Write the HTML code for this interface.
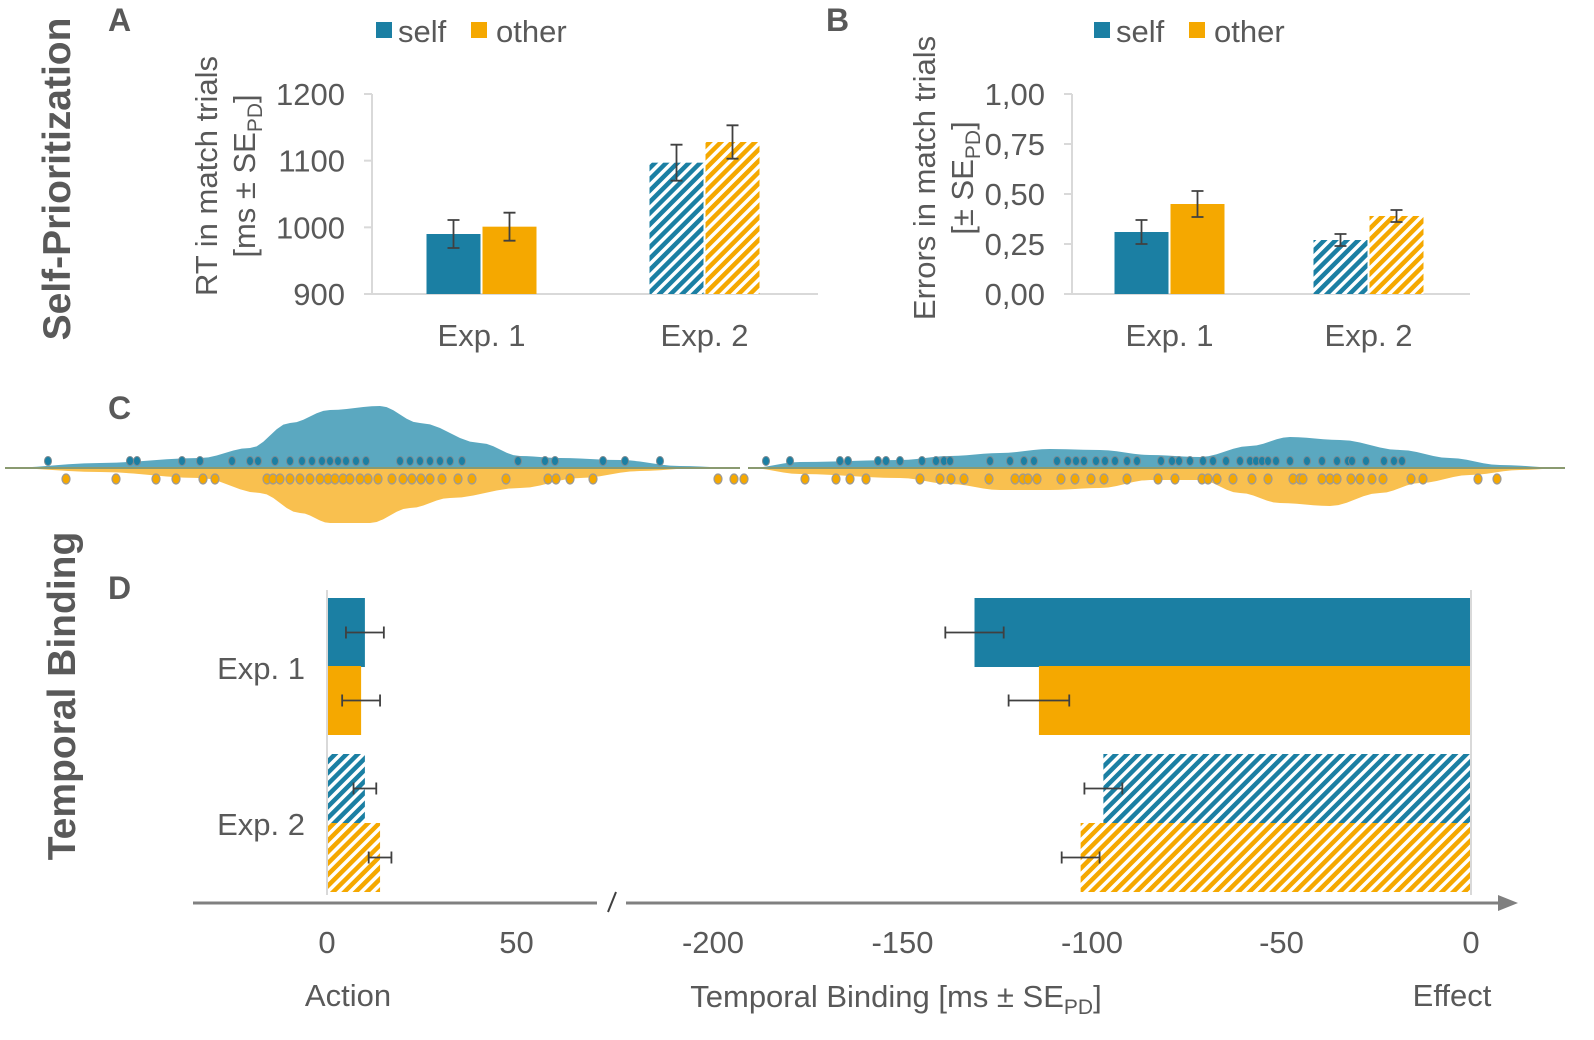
<!DOCTYPE html>
<html><head><meta charset="utf-8"><style>
body{margin:0;background:#fff;}
svg{font-family:"Liberation Sans",sans-serif;}
</style></head><body>
<svg id="s" width="1594" height="1035" viewBox="0 0 1594 1035" xmlns="http://www.w3.org/2000/svg">
<defs>
<pattern id="hb" width="8" height="8" patternUnits="userSpaceOnUse" patternTransform="rotate(45)"><rect width="8" height="8" fill="#fff"/><rect width="4.5" height="8" fill="#1b7fa3"/></pattern>
<pattern id="ho" width="8" height="8" patternUnits="userSpaceOnUse" patternTransform="rotate(45)"><rect width="8" height="8" fill="#fff"/><rect width="4.5" height="8" fill="#f5a800"/></pattern>
</defs>
<g id="g"></g>
</svg>
<script>
// Panel A data
const catsAB=["Exp. 1","Exp. 2"];
const rtSelf=[990,1097], rtOther=[1001,1128], rtSelfErr=[21,27], rtOtherErr=[21,25];
const rtTicks=[900,1000,1100,1200];
// Panel B data
const errSelf=[0.31,0.27], errOther=[0.45,0.39], errSelfErr=[0.06,0.03], errOtherErr=[0.065,0.03];
const errTicks=["0,00","0,25","0,50","0,75","1,00"];
const errTickVals=[0,0.25,0.5,0.75,1];
// Panel D data
const tbLeftSelf=[10,10], tbLeftOther=[9,14], tbLeftSelfErr=[5,3], tbLeftOtherErr=[5,3];
const tbRightSelf=[-131,-97], tbRightOther=[-114,-103], tbRightSelfErr=[7.7,5], tbRightOtherErr=[8,5];
const leftTicks=[0,50], rightTicks=[-200,-150,-100,-50,0];
// Panel C violin data
const vLX=[5,100,200,250,290,330,380,420,480,520,560,620,680,740];
const vLBlue=[0,5,10,20,45,58,62,45,25,12,10,8,2,0];
const vLOX=[5,100,200,260,300,330,370,410,450,520,580,640,700,740];
const vLOrange=[0,4,10,25,45,55,55,40,30,20,10,3,0,0];
const vRX=[750,800,900,950,1000,1050,1100,1150,1200,1250,1290,1340,1400,1450,1500,1565];
const vRBlue=[0,6,8,12,15,19,18,13,11,22,31,28,18,10,3,0];
const vROX=[750,800,900,950,1000,1050,1100,1150,1200,1240,1280,1330,1380,1420,1470,1520,1565];
const vROrange=[0,6,10,16,22,22,20,12,12,25,35,38,25,15,7,2,0];
const dotsBlue=[48,130,137,182,200,232,250,258,275,290,302,312,322,330,338,346,356,366,400,410,420,430,440,450,462,518,545,555,603,625,660,766,790,840,848,878,886,900,922,936,944,950,990,1010,1024,1034,1057,1068,1076,1084,1096,1105,1115,1127,1137,1161,1172,1179,1190,1203,1213,1226,1240,1250,1256,1262,1268,1276,1290,1307,1322,1337,1348,1352,1366,1384,1394,1402];
const dotsOrange=[66,116,156,176,203,215,267,273,280,290,300,310,320,328,335,343,350,360,368,378,392,403,412,421,430,442,458,472,506,548,556,570,593,718,734,744,805,836,850,866,920,940,951,964,989,1015,1023,1028,1037,1061,1075,1091,1104,1127,1158,1175,1202,1208,1217,1233,1252,1268,1293,1300,1303,1322,1330,1337,1351,1360,1372,1383,1411,1423,1478,1497];

const g=document.getElementById('g');
function el(t,a,txt){const e=document.createElementNS('http://www.w3.org/2000/svg',t);for(const k in a)e.setAttribute(k,a[k]);if(txt!==undefined)e.textContent=txt;g.appendChild(e);return e;}
const GRAY="#595959", BLUE="#1b7fa3", ORANGE="#f5a800", EB="#404040";
const FS=31;

for(const [t,x,y] of [["A",108,31],["B",826,31],["C",108,419],["D",108,599]]){
 const e=el('text',{x:x,y:y,'font-size':32,'font-weight':'bold',fill:GRAY},t);
 
 
}
let e=el('text',{x:0,y:0,'font-size':39,'font-weight':'bold',fill:GRAY,'text-anchor':'middle',transform:'translate(70,179) rotate(-90)'},"Self-Prioritization");


e=el('text',{x:0,y:0,'font-size':39,'font-weight':'bold',fill:GRAY,'text-anchor':'middle',transform:'translate(75,696) rotate(-90)'},"Temporal Binding");



function legend(x0,tag){
 let r=el('rect',{x:x0,y:22,width:16,height:16,fill:BLUE});
 
 
 let t=el('text',{x:x0+22,y:42,'font-size':FS,fill:GRAY},"self");
 
 
 r=el('rect',{x:x0+95,y:22,width:16,height:16,fill:ORANGE});
 
 
 t=el('text',{x:x0+120,y:42,'font-size':FS,fill:GRAY},"other");
 
 
}
legend(376,'a'); legend(1094,'b');

function errbar(x,y1,y2,cap,name){
 const p=el('path',{d:`M${x-cap},${y1}H${x+cap}M${x},${y1}V${y2}M${x-cap},${y2}H${x+cap}`,stroke:EB,'stroke-width':1.8,fill:'none'});
 
 
}
function vbars(o){
 const ys=v=>o.y0-(v-o.vmin)*(o.y0-o.y1)/(o.vmax-o.vmin);
 let ax=el('line',{x1:o.xL,x2:o.xR,y1:o.y0,y2:o.y0,stroke:'#d9d9d9','stroke-width':2});
 
 
 ax=el('line',{x1:o.xL,x2:o.xL,y1:o.y1,y2:o.y0,stroke:'#d9d9d9','stroke-width':2});
 
 
 o.ticks.forEach((t,i)=>{const v=o.tickVals[i];
  const tx=el('text',{x:o.xL-27,y:ys(v)+11,'font-size':FS,fill:GRAY,'text-anchor':'end'},t);
  
  
  const tk=el('line',{x1:o.xL-8,x2:o.xL,y1:ys(v),y2:ys(v),stroke:'#d9d9d9','stroke-width':2});
  
  
 });
 const cw=(o.xR-o.xL)/catsAB.length, bw=54;
 catsAB.forEach((c,i)=>{
  const cx=o.xL+cw*(i+0.5)-2;
  const lb=el('text',{x:cx,y:346,'font-size':FS,fill:GRAY,'text-anchor':'middle'},c);
  
  
  [[o.self,o.selfErr,i?'url(#hb)':BLUE,cx-bw-1,'self'],[o.other,o.otherErr,i?'url(#ho)':ORANGE,cx+1,'other']].forEach(([arr,err,f,x,n])=>{
   const b=el('rect',{x:x,y:ys(arr[i]),width:bw,height:o.y0-ys(arr[i]),fill:f});
   
   
   errbar(x+bw/2,ys(arr[i]+err[i]),ys(arr[i]-err[i]),6,'error-bar-'+n+'-exp'+(i+1));
  });
 });
}
vbars({tag:'a',xL:372,xR:818,y0:294,y1:94,vmin:900,vmax:1200,ticks:rtTicks.map(String),tickVals:rtTicks,self:rtSelf,other:rtOther,selfErr:rtSelfErr,otherErr:rtOtherErr});
vbars({tag:'b',xL:1072,xR:1470,y0:294,y1:94,vmin:0,vmax:1,ticks:errTicks,tickVals:errTickVals,self:errSelf,other:errOther,selfErr:errSelfErr,otherErr:errOtherErr});

function ytitle(x,y,lines,name){
 const t=el('text',{x:0,y:0,'font-size':31,fill:GRAY,'text-anchor':'middle',transform:`translate(${x},${y}) rotate(-90)`});
 
 
 t.innerHTML=lines;
}
ytitle(217,176,'RT in match trials','y-axis-title-a');
ytitle(255,176,'[ms ± SE<tspan font-size="21" dy="7">PD</tspan><tspan dy="-7">]</tspan>','y-axis-unit-a');
ytitle(935,178,'Errors in match trials','y-axis-title-b');
ytitle(973,178,'[± SE<tspan font-size="21" dy="7">PD</tspan><tspan dy="-7">]</tspan>','y-axis-unit-b');

const BASE=468;
function area(xs,hs,sign,fill,name){
 let d=`M${xs[0]},${BASE}`;
 xs.forEach((x,i)=>{d+=`L${x},${BASE+sign*hs[i]}`;});
 d+=`L${xs[xs.length-1]},${BASE}Z`;
 const p=el('path',{d:d,fill:fill,stroke:'none'});
 
 
}
function smooth(xs,hs){
 const X=[],H=[];
 for(let i=0;i<xs.length-1;i++){for(let k=0;k<6;k++){const t=k/6,s=(1-Math.cos(Math.PI*t))/2;X.push(xs[i]+(xs[i+1]-xs[i])*t);H.push(hs[i]+(hs[i+1]-hs[i])*s);}}
 X.push(xs[xs.length-1]);H.push(hs[hs.length-1]);return [X,H];
}
area(...smooth(vLX,vLBlue),-1,'#5ba8c0','violin-self-left');
area(...smooth(vLOX,vLOrange),1,'#f9c04f','violin-other-left');
area(...smooth(vRX,vRBlue),-1,'#5ba8c0','violin-self-right');
area(...smooth(vROX,vROrange),1,'#f9c04f','violin-other-right');
let bl=el('line',{x1:5,x2:740,y1:BASE,y2:BASE,stroke:'#8a9a70','stroke-width':2});


bl=el('line',{x1:748,x2:1565,y1:BASE,y2:BASE,stroke:'#8a9a70','stroke-width':2});


dotsBlue.forEach(x=>{const c=el('ellipse',{cx:x,cy:461,rx:3.5,ry:4.5,fill:BLUE,stroke:'#7a8a90','stroke-width':1});
 
 });
dotsOrange.forEach(x=>{const c=el('ellipse',{cx:x,cy:479,rx:4,ry:5,fill:ORANGE,stroke:'#999','stroke-width':1.2});
 
 });

const scale=3.79, x0L=327, x0R=1471;
const xl=v=>x0L+v*scale, xr=v=>x0R+v*scale;
const rowsY=[[598,666],[754,823]], bh=69;
[0,1].forEach(i=>{
 const lb=el('text',{x:305,y:i?835:679,'font-size':FS,fill:GRAY,'text-anchor':'end'},catsAB[i]);
 
 
 [[tbLeftSelf,tbLeftSelfErr,tbRightSelf,tbRightSelfErr,i?'url(#hb)':BLUE,rowsY[i][0],'self'],
  [tbLeftOther,tbLeftOtherErr,tbRightOther,tbRightOtherErr,i?'url(#ho)':ORANGE,rowsY[i][1],'other']].forEach(([L,LE,R,RE,f,y,n])=>{
  let b=el('rect',{x:x0L,y:y,width:xl(L[i])-x0L,height:bh,fill:f});
  
  
  b=el('rect',{x:xr(R[i]),y:y,width:x0R-xr(R[i]),height:bh,fill:f});
  
  
  const cy=y+bh/2;
  const p1=el('path',{d:`M${xl(L[i]-LE[i])},${cy-6}V${cy+6}M${xl(L[i]-LE[i])},${cy}H${xl(L[i]+LE[i])}M${xl(L[i]+LE[i])},${cy-6}V${cy+6}`,stroke:EB,'stroke-width':1.8,fill:'none'});
  
  
  const p2=el('path',{d:`M${xr(R[i]-RE[i])},${cy-6}V${cy+6}M${xr(R[i]-RE[i])},${cy}H${xr(R[i]+RE[i])}M${xr(R[i]+RE[i])},${cy-6}V${cy+6}`,stroke:EB,'stroke-width':1.8,fill:'none'});
  
  
 });
});
let zl=el('line',{x1:x0L,x2:x0L,y1:590,y2:895,stroke:'#d9d9d9','stroke-width':2});


zl=el('line',{x1:x0R,x2:x0R,y1:590,y2:895,stroke:'#d9d9d9','stroke-width':2});


let ax=el('path',{d:'M193,903H597M626,903H1500',stroke:'#808080','stroke-width':3,fill:'none'});


ax=el('path',{d:'M1518,903L1498,895L1498,911Z',fill:'#808080'});


ax=el('line',{x1:608,x2:616,y1:912,y2:892,stroke:'#404040','stroke-width':2});


leftTicks.forEach(v=>{const t=el('text',{x:xl(v),y:953,'font-size':FS,fill:GRAY,'text-anchor':'middle'},String(v));
 
 });
rightTicks.forEach(v=>{const t=el('text',{x:xr(v),y:953,'font-size':FS,fill:GRAY,'text-anchor':'middle'},String(v));
 
 });
let t=el('text',{x:348,y:1006,'font-size':FS,fill:GRAY,'text-anchor':'middle'},"Action");


t=el('text',{x:1452,y:1006,'font-size':FS,fill:GRAY,'text-anchor':'middle'},"Effect");


t=el('text',{x:896,y:1007,'font-size':FS,fill:GRAY,'text-anchor':'middle'});
t.innerHTML='Temporal Binding [ms ± SE<tspan font-size="21" dy="7">PD</tspan><tspan dy="-7">]</tspan>';


</script>
</body></html>
